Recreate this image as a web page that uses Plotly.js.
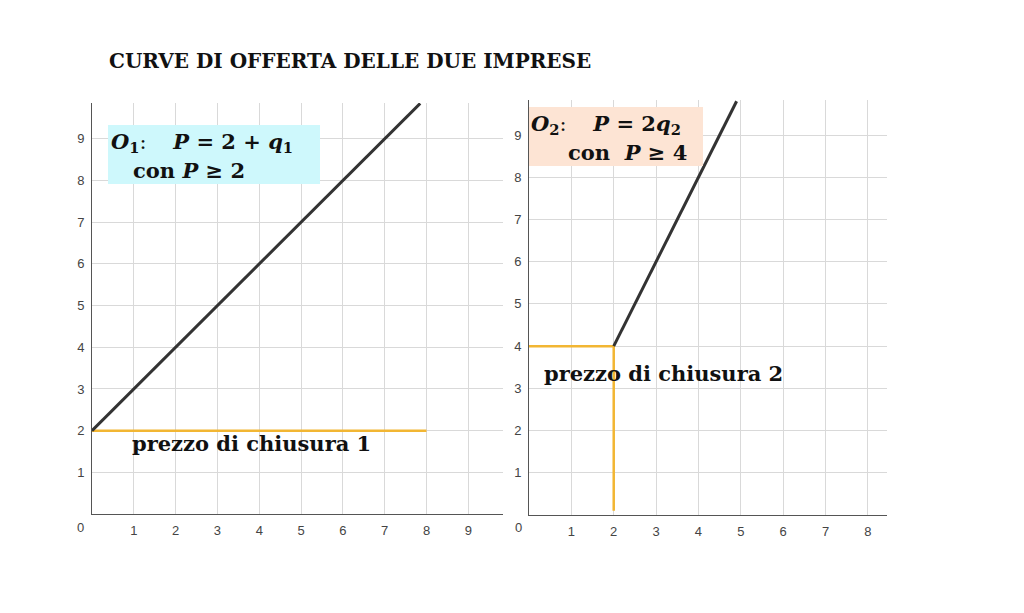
<!DOCTYPE html>
<html>
<head>
<meta charset="utf-8">
<script src="https://cdn.plot.ly/plotly-3.0.1.min.js"></script>
<style>
  html, body { margin: 0; padding: 0; background: #fff; }
  #chart { width: 1024px; height: 613px; }
</style>
</head>
<body>
<div id="chart"></div>
<script>
// firm 1: P = 2 + q1, shutdown price 2
const q1Supply = [0, 7.85];
const p1Supply = [2, 9.85];
const q1Close = [0, 8];
const p1Close = [2, 2];

// firm 2: P = 2 q2, shutdown price 4
const q2Supply = [2, 4.9];
const p2Supply = [4, 9.8];
const q2Close = [0, 2, 2];
const p2Close = [4, 4, 0.1];

const xTicks1 = [1, 2, 3, 4, 5, 6, 7, 8, 9];
const xTicks2 = [1, 2, 3, 4, 5, 6, 7, 8];
const yTicks = [1, 2, 3, 4, 5, 6, 7, 8, 9];

const W = 1024, H = 613;
const px = v => v / W;
const py = v => 1 - v / H;

const darkLine = '#333333';
const gold = '#f2b633';
const serif = 'DejaVu Serif';
const sp = '\u00a0';

const data = [
    {x: q1Close, y: p1Close, xaxis: 'x', yaxis: 'y', mode: 'lines',
     line: {color: gold, width: 2.5}, hoverinfo: 'skip'},
    {x: q1Supply, y: p1Supply, xaxis: 'x', yaxis: 'y', mode: 'lines',
     line: {color: darkLine, width: 3}},
    {x: q2Close, y: p2Close, xaxis: 'x2', yaxis: 'y2', mode: 'lines',
     line: {color: gold, width: 2.5}, hoverinfo: 'skip'},
    {x: q2Supply, y: p2Supply, xaxis: 'x2', yaxis: 'y2', mode: 'lines',
     line: {color: darkLine, width: 3}}
];

const tickFont = {family: 'Liberation Sans', size: 13, color: '#444'};

function axis(domain, range, ticks, anchor) {
    return {
        domain: domain,
        range: range,
        anchor: anchor,
        tickmode: 'array',
        tickvals: ticks,
        ticks: '',
        showline: true,
        linecolor: '#555',
        linewidth: 1,
        showgrid: true,
        gridcolor: '#d9d9d9',
        gridwidth: 1,
        zeroline: false,
        ticklabelstandoff: 4,
        tickfont: tickFont,
        fixedrange: true
    };
}

const txt = (size) => ({family: serif, size: size, color: '#111'});

const layout = {
    width: W,
    height: H,
    margin: {l: 0, r: 0, t: 0, b: 0},
    paper_bgcolor: '#ffffff',
    plot_bgcolor: 'rgba(0,0,0,0)',
    showlegend: false,
    xaxis: axis([px(92), px(503)], [0, 9.83], xTicks1, 'y'),
    yaxis: axis([py(514), py(103)], [0, 9.86], yTicks, 'x'),
    xaxis2: axis([px(529), px(887)], [0, 8.45], xTicks2, 'y2'),
    yaxis2: axis([py(515), py(100)], [0, 9.83], yTicks, 'x2'),
    shapes: [
        {type: 'rect', xref: 'paper', yref: 'paper', layer: 'above',
         x0: px(108), x1: px(320), y0: py(184), y1: py(125),
         fillcolor: '#cef8fc', line: {width: 0}},
        {type: 'rect', xref: 'paper', yref: 'paper', layer: 'above',
         x0: px(529), x1: px(703), y0: py(166), y1: py(107),
         fillcolor: '#fde4d4', line: {width: 0}}
    ],
    annotations: [
        {text: '<b>CURVE DI OFFERTA DELLE DUE IMPRESE</b>', xref: 'paper', yref: 'paper',
         x: px(107), y: py(61), xanchor: 'left', yanchor: 'middle', showarrow: false,
         font: txt(20)},

        {text: '<b><i>O</i><sub>1</sub></b>:' + sp.repeat(4) + '<b><i>P</i> = 2 + <i>q</i><sub>1</sub></b>',
         xref: 'paper', yref: 'paper', x: px(109), y: py(142), xanchor: 'left', yanchor: 'middle',
         showarrow: false, font: txt(21)},
        {text: '<b>con <i>P</i> ≥ 2</b>',
         xref: 'paper', yref: 'paper', x: px(131), y: py(170), xanchor: 'left', yanchor: 'middle',
         showarrow: false, font: txt(21)},

        {text: '<b><i>O</i><sub>2</sub></b>:' + sp.repeat(4) + '<b><i>P</i> = 2<i>q</i><sub>2</sub></b>',
         xref: 'paper', yref: 'paper', x: px(529), y: py(124), xanchor: 'left', yanchor: 'middle',
         showarrow: false, font: txt(21)},
        {text: '<b>con' + sp + ' <i>P</i> ≥ 4</b>',
         xref: 'paper', yref: 'paper', x: px(566), y: py(153), xanchor: 'left', yanchor: 'middle',
         showarrow: false, font: txt(21)},

        {text: '<b>prezzo di chiusura 1</b>', xref: 'x', yref: 'y', x: 0.9, y: 1.68,
         xanchor: 'left', yanchor: 'middle', showarrow: false, font: txt(21)},
        {text: '<b>prezzo di chiusura 2</b>', xref: 'x2', yref: 'y2', x: 0.3, y: 3.34,
         xanchor: 'left', yanchor: 'middle', showarrow: false, font: txt(21)},

        {text: '0', xref: 'paper', yref: 'paper', x: px(80), y: py(527),
         xanchor: 'center', yanchor: 'middle', showarrow: false, font: tickFont},
        {text: '0', xref: 'paper', yref: 'paper', x: px(518), y: py(527),
         xanchor: 'center', yanchor: 'middle', showarrow: false, font: tickFont}
    ]
};

Plotly.newPlot('chart', data, layout, {displayModeBar: false, staticPlot: true});
</script>
</body>
</html>
